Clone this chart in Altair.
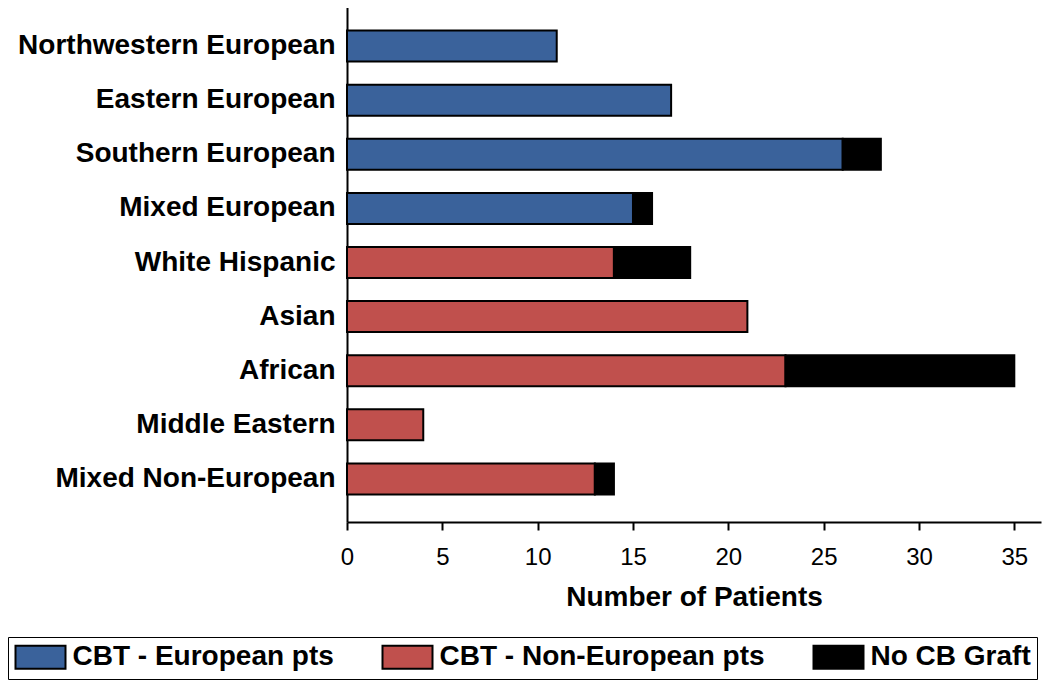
import altair as alt
import pandas as pd

categories = ["Northwestern European", "Eastern European", "Southern European",
              "Mixed European", "White Hispanic", "Asian", "African",
              "Middle Eastern", "Mixed Non-European"]
european_cbt = [11, 17, 26, 15, 0, 0, 0, 0, 0]
non_european_cbt = [0, 0, 0, 0, 14, 21, 23, 4, 13]
no_cb_graft = [0, 0, 2, 1, 4, 0, 12, 0, 1]
series_names = ["CBT - European pts", "CBT - Non-European pts", "No CB Graft"]
series_colors = ["#3A629B", "#C0504D", "#000000"]
x_ticks = [0, 5, 10, 15, 20, 25, 30, 35]

rows = []
for i, cat in enumerate(categories):
    for k, vals in enumerate([european_cbt, non_european_cbt, no_cb_graft]):
        if vals[i] > 0:
            rows.append({"category": cat, "series": series_names[k],
                         "value": vals[i], "order": k})
df = pd.DataFrame(rows)

FONT = "Liberation Sans"

chart = alt.Chart(df).mark_bar(stroke="black", strokeWidth=2).encode(
    y=alt.Y("category:N", sort=categories,
            scale=alt.Scale(paddingInner=0.427, paddingOuter=0.51),
            axis=alt.Axis(title=None, ticks=False, labelPadding=12,
                          labelFontSize=28, labelFont=FONT, labelFontWeight="bold",
                          labelColor="black", labelLimit=500,
                          domainColor="black", domainWidth=2, grid=False)),
    x=alt.X("value:Q", stack="zero",
            scale=alt.Scale(domain=[0, 36.4], nice=False),
            axis=alt.Axis(values=x_ticks, title="Number of Patients",
                          labelFontSize=24, labelFont=FONT, labelColor="black",
                          labelFlush=False,
                          labelPadding=15, tickSize=8, tickWidth=2, tickColor="black",
                          domainColor="black", domainWidth=2, grid=False,
                          titleFont=FONT, titleFontSize=28, titleFontWeight="bold",
                          titleColor="black", titlePadding=14)),
    color=alt.Color("series:N",
                    scale=alt.Scale(domain=series_names, range=series_colors),
                    legend=alt.Legend(title=None, orient="none", legendX=-339,
                                      legendY=634, direction="horizontal",
                                      symbolType="M-2,-0.92H2V0.92H-2Z", symbolSize=625,
                                      symbolStrokeColor="black", symbolStrokeWidth=2,
                                      symbolOffset=12.5, labelOffset=18,
                                      labelFontSize=28, labelFont=FONT,
                                      labelFontWeight="bold", labelColor="black",
                                      labelLimit=500, columnPadding=44, padding=6,
                                      strokeColor="black", fillColor="white",
                                      symbolOpacity=1)),
    order=alt.Order("order:Q"),
).properties(
    width=694, height=519,
    autosize=alt.AutoSizeParams(type="none"),
    padding={"left": 339, "top": -5, "right": 1, "bottom": 158},
).configure_view(stroke=None)

chart.save("out.html", embed_options={"renderer": "svg", "actions": False})
